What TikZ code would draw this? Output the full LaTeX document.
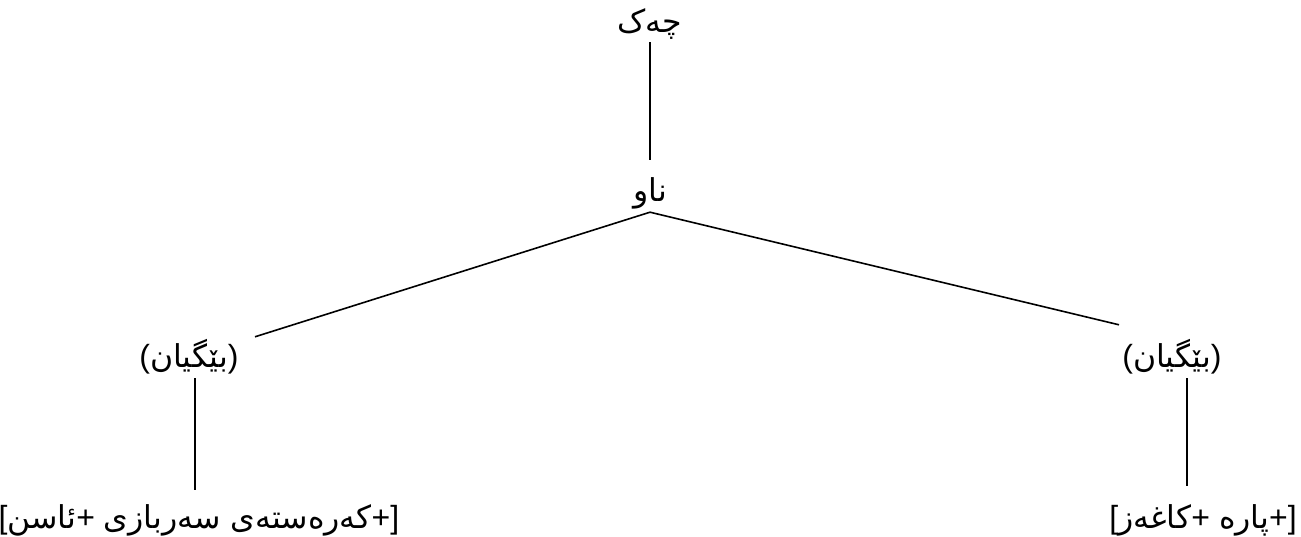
\documentclass[tikz,border=0pt]{standalone}
\usepackage{fontspec}
\newfontfamily\arabicfont[Script=Arabic]{DejaVu Sans}
\newfontfamily\latfont{Liberation Sans}
\TeXXeTstate=1
\newcommand\arsz{\arabicfont\fontsize{31.5}{37}\selectfont}
\begin{document}
\begin{tikzpicture}[x=1pt,y=-1pt,
  lbl/.style={font=\latfont\fontsize{32}{38}\selectfont, inner sep=0pt, anchor=base,
    text height=24pt, text depth=8pt},
  edge/.style={draw=black, line width=1.6pt}]
\useasboundingbox (0,0) rectangle (1301,537);
\node[lbl] (chek) at (650,33) {{\arsz\beginR چەک\endR}};
\node[lbl] (naw) at (650,202) {{\arsz\beginR ناو\endR}};
\node[lbl] (lg) at (189,367) {({\arsz\beginR بێگیان\endR})};
\node[lbl] (rg) at (1172,367) {({\arsz\beginR بێگیان\endR})};
\node[lbl] (lf) at (199,528) {[{\arsz\beginR ئاسن\endR}+ {\arsz\beginR کەرەستەی سەربازی\endR}+]};
\node[lbl] (rf) at (1203,528) {[{\arsz\beginR کاغەز\endR}+ {\arsz\beginR پارە\endR}+]};
\draw[edge] ([yshift=-1pt]chek.south) -- ([yshift=18pt]naw.north);
\draw[edge] ([yshift=-2pt]naw.south) -- ([xshift=66pt,yshift=6pt]lg.north);
\draw[edge] ([yshift=-2pt]naw.south) -- ([xshift=-53pt,yshift=18pt]rg.north);
\draw[edge] ([xshift=6pt,yshift=-3pt]lg.south) -- ([xshift=-4pt,yshift=14pt]lf.north);
\draw[edge] ([xshift=15pt,yshift=-3pt]rg.south) -- ([xshift=-16pt,yshift=18pt]rf.north);
\end{tikzpicture}
\end{document}
